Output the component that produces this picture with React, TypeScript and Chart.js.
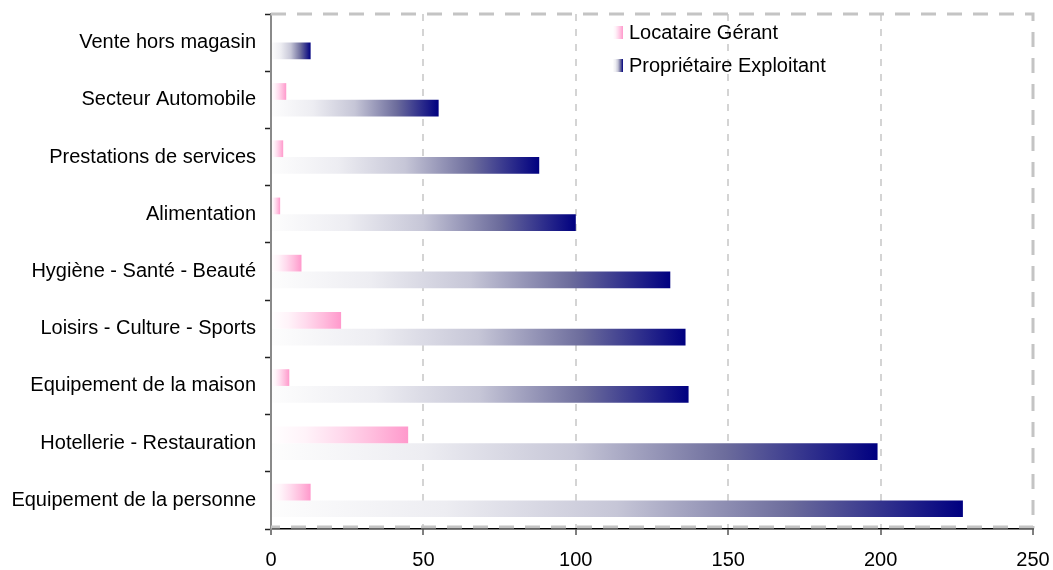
import React, { useEffect, useRef } from 'react';
import { Chart, registerables } from 'chart.js';

Chart.register(...registerables);

const categories = [
  'Vente hors magasin',
  'Secteur Automobile',
  'Prestations de services',
  'Alimentation',
  'Hygiène - Santé - Beauté',
  'Loisirs - Culture - Sports',
  'Equipement de la maison',
  'Hotellerie - Restauration',
  'Equipement de la personne',
];

const locataireGerant = [0, 5, 4, 3, 10, 23, 6, 45, 13];
const proprietaireExploitant = [13, 55, 88, 100, 131, 136, 137, 199, 227];

const seriesNames = ['Locataire Gérant', 'Propriétaire Exploitant'];

const xMin = 0;
const xMax = 250;
const xStep = 50;

const FONT_FAMILY = '"Liberation Sans", Arial, Helvetica, sans-serif';

const pinkStops: [number, string][] = [
  [0, '#ffffff'],
  [0.25, '#fff3f9'],
  [0.5, '#ffdaed'],
  [0.75, '#ffbcdd'],
  [1, '#ff99cc'],
];
const navyStops: [number, string][] = [
  [0, '#fdfdfd'],
  [0.25, '#ededf2'],
  [0.5, '#c6c6d7'],
  [0.75, '#6c6c9c'],
  [1, '#000080'],
];

function makeGradient(c: CanvasRenderingContext2D, x0: number, x1: number, stops: [number, string][]) {
  const g = c.createLinearGradient(x0, 0, x1, 0);
  stops.forEach(([o, col]) => g.addColorStop(o, col));
  return g;
}

function barFill(stops: [number, string][]) {
  return (ctx: any) => {
    const chart = ctx.chart;
    const end = stops[stops.length - 1][1];
    if (!chart.chartArea || ctx.type !== 'data') return end;
    const xs = chart.scales.x;
    const v = ctx.raw as number;
    const x0 = xs.getPixelForValue(0);
    const x1 = xs.getPixelForValue(v);
    if (x1 - x0 < 1) return end;
    return makeGradient(chart.ctx, x0, x1, stops);
  };
}

const plotBorderPlugin = {
  id: 'plotBorder',
  beforeDatasetsDraw(chart: any) {
    const { ctx, chartArea: a } = chart;
    ctx.save();
    ctx.strokeStyle = '#c4c4c4';
    ctx.lineWidth = 3;
    ctx.setLineDash([15, 11]);
    ctx.beginPath();
    ctx.moveTo(a.left, a.top);
    ctx.lineTo(a.right, a.top);
    ctx.lineTo(a.right, a.bottom - 2);
    ctx.lineTo(a.left, a.bottom - 2);
    ctx.stroke();
    ctx.restore();
  },
};

const legendPlugin = {
  id: 'insideLegend',
  afterDraw(chart: any) {
    const { ctx, chartArea: a } = chart;
    const stopsList = [pinkStops, navyStops];
    const x = a.left + 342;
    ctx.save();
    ctx.font = '20px ' + FONT_FAMILY;
    ctx.fillStyle = '#000';
    ctx.textBaseline = 'alphabetic';
    ctx.textAlign = 'left';
    chart.data.datasets.forEach((ds: any, i: number) => {
      const base = a.top + 25 + i * 33;
      ctx.fillStyle = makeGradient(ctx, x, x + 10, stopsList[i]);
      ctx.fillRect(x, base - 13, 10, 13);
      ctx.fillStyle = '#000';
      ctx.fillText(ds.label, x + 16, base);
    });
    ctx.restore();
  },
};

export default function App() {
  const canvasRef = useRef<HTMLCanvasElement | null>(null);

  useEffect(() => {
    if (!canvasRef.current) return;
    const chart = new Chart(canvasRef.current, {
      type: 'bar',
      data: {
        labels: categories,
        datasets: [
          {
            label: seriesNames[0],
            data: locataireGerant,
            backgroundColor: barFill(pinkStops),
            borderWidth: 0,
            categoryPercentage: 0.584,
            barPercentage: 1,
          },
          {
            label: seriesNames[1],
            data: proprietaireExploitant,
            backgroundColor: barFill(navyStops),
            borderWidth: 0,
            categoryPercentage: 0.584,
            barPercentage: 1,
          },
        ],
      },
      options: {
        indexAxis: 'y',
        animation: false,
        responsive: true,
        maintainAspectRatio: false,
        layout: { padding: { top: 14, right: 20, left: 0, bottom: 0 } },
        plugins: {
          legend: { display: false },
          tooltip: { enabled: false },
        },
        scales: {
          x: {
            type: 'linear',
            min: xMin,
            max: xMax,
            ticks: {
              stepSize: xStep,
              color: '#000',
              font: { size: 20, family: FONT_FAMILY },
              padding: 13,
            },
            grid: {
              color: (c: any) =>
                c.tick && (c.tick.value === xMin || c.tick.value === xMax) ? 'rgba(0,0,0,0)' : '#d4d4d4',
              lineWidth: 2,
              tickColor: '#000',
              tickLength: 6,
              tickWidth: 1,
            },
            border: { display: true, color: '#000', width: 1.5, dash: [7, 8] },
            afterFit: (s: any) => {
              s.height = 41;
              s.paddingLeft = 0;
              s.paddingRight = 0;
            },
          },
          y: {
            type: 'category',
            offset: true,
            ticks: {
              color: '#000',
              font: { size: 20, family: FONT_FAMILY },
              padding: 9,
            },
            grid: {
              drawOnChartArea: false,
              drawTicks: true,
              offset: true,
              tickColor: '#222',
              tickLength: 6,
              tickWidth: 1.5,
            },
            border: { display: true, color: '#8a8a8a', width: 2 },
            afterFit: (s: any) => {
              s.width = 271;
              s.paddingTop = 0;
              s.paddingBottom = 0;
            },
          },
        },
      },
      plugins: [plotBorderPlugin, legendPlugin],
    });
    return () => chart.destroy();
  }, []);

  return (
    <div style={{ position: 'fixed', left: 0, top: 0, width: 1053, height: 570, background: '#fff' }}>
      <canvas ref={canvasRef} />
    </div>
  );
}
